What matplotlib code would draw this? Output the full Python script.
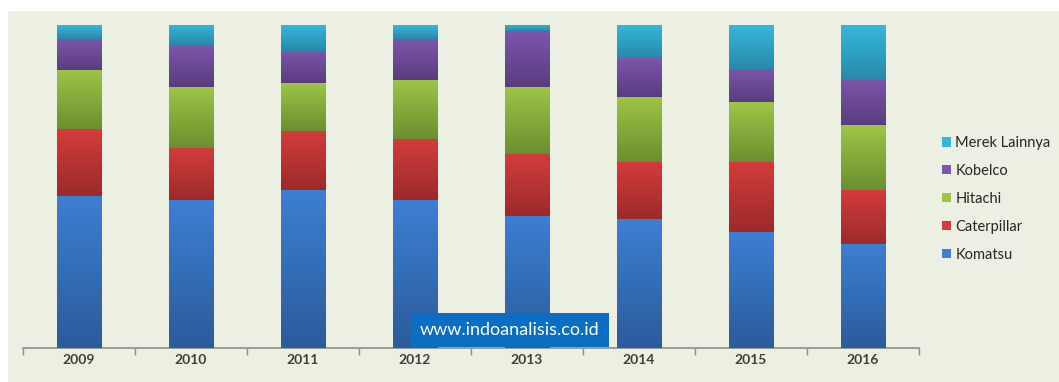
import numpy as np
import matplotlib.pyplot as plt
from matplotlib.colors import LinearSegmentedColormap
from matplotlib.patches import Rectangle

years = ['2009', '2010', '2011', '2012', '2013', '2014', '2015', '2016']
komatsu = [47.1, 45.8, 48.8, 45.8, 41.0, 39.9, 35.8, 32.1]
caterpillar = [20.7, 16.1, 18.3, 19.0, 19.0, 17.7, 21.9, 16.7]
hitachi = [18.4, 19.0, 15.0, 18.3, 20.9, 20.2, 18.4, 20.1]
kobelco = [9.5, 12.9, 9.9, 12.6, 17.1, 11.9, 10.0, 14.1]
lainnya = [4.3, 6.2, 8.0, 4.3, 2.0, 10.2, 13.9, 16.9]

names = ['Komatsu', 'Caterpillar', 'Hitachi', 'Kobelco', 'Merek Lainnya']
series = [komatsu, caterpillar, hitachi, kobelco, lainnya]
# (top colour, bottom colour) for the gradient
colors = [('#3d7fd2', '#2b5b9b'),
          ('#d43c3c', '#9c2a2a'),
          ('#9dc646', '#6b8f30'),
          ('#7c56aa', '#5a3c7e'),
          ('#35b7da', '#2889a6')]

plt.rcParams['font.family'] = ['Lato', 'DejaVu Sans']

fig = plt.figure(figsize=(10.59, 3.82), dpi=100)
fig.patch.set_facecolor('white')
fig.patches.append(Rectangle((8 / 1059, 0), 1, 1 - 11 / 382, transform=fig.transFigure,
                             facecolor='#ecf0e2', edgecolor='none', zorder=-10))

ax = fig.add_axes([23 / 1059, 1 - 348 / 382, (919 - 23) / 1059, (348 - 25) / 382])
ax.set_facecolor('none')

x = np.arange(len(years))
bottom = np.zeros(len(years))
grad = np.linspace(0, 1, 256).reshape(-1, 1)
handles = []
for vals, name, (top_c, bot_c) in zip(series, names, colors):
    vals = np.array(vals)
    bars = ax.bar(x, vals, width=0.4, bottom=bottom, color=top_c, label=name, zorder=2)
    cmap = LinearSegmentedColormap.from_list(name, [bot_c, top_c])
    for b in bars:
        x0, y0 = b.get_x(), b.get_y()
        ax.imshow(grad, cmap=cmap, origin='lower', aspect='auto', zorder=3,
                  extent=[x0, x0 + b.get_width(), y0, y0 + b.get_height()])
    handles.append(bars)
    bottom += vals

ax.set_xlim(-0.5, len(years) - 0.5)
ax.set_ylim(0, 100)

for s in ['left', 'right', 'top']:
    ax.spines[s].set_visible(False)
ax.spines['bottom'].set_color('#8c8c8c')
ax.spines['bottom'].set_linewidth(1.2)
ax.set_yticks([])
ax.set_xticks(x)
ax.set_xticklabels(years, fontsize=10, fontweight='bold', color='#404040')
ax.tick_params(axis='x', which='major', length=0, pad=4)
ax.set_xticks(np.arange(-0.5, len(years), 1), minor=True)
ax.tick_params(axis='x', which='minor', length=5, width=1, color='#8c8c8c', direction='out')

leg = fig.legend(handles[::-1], names[::-1], loc='upper left',
                 bbox_to_anchor=(929 / 1059, 1 - 123 / 382), frameon=False,
                 fontsize=10.5, handlelength=0.6, handleheight=0.6, handletextpad=0.3,
                 labelspacing=0.95, labelcolor='#262626')

fig.text(510 / 1059, 1 - 330 / 382, 'www.indoanalisis.co.id', ha='center', va='center',
         fontsize=13, color='white',
         bbox=dict(boxstyle='square,pad=0.5', facecolor='#0a6fc2', edgecolor='none'))

fig.savefig('out.png', dpi=100)
